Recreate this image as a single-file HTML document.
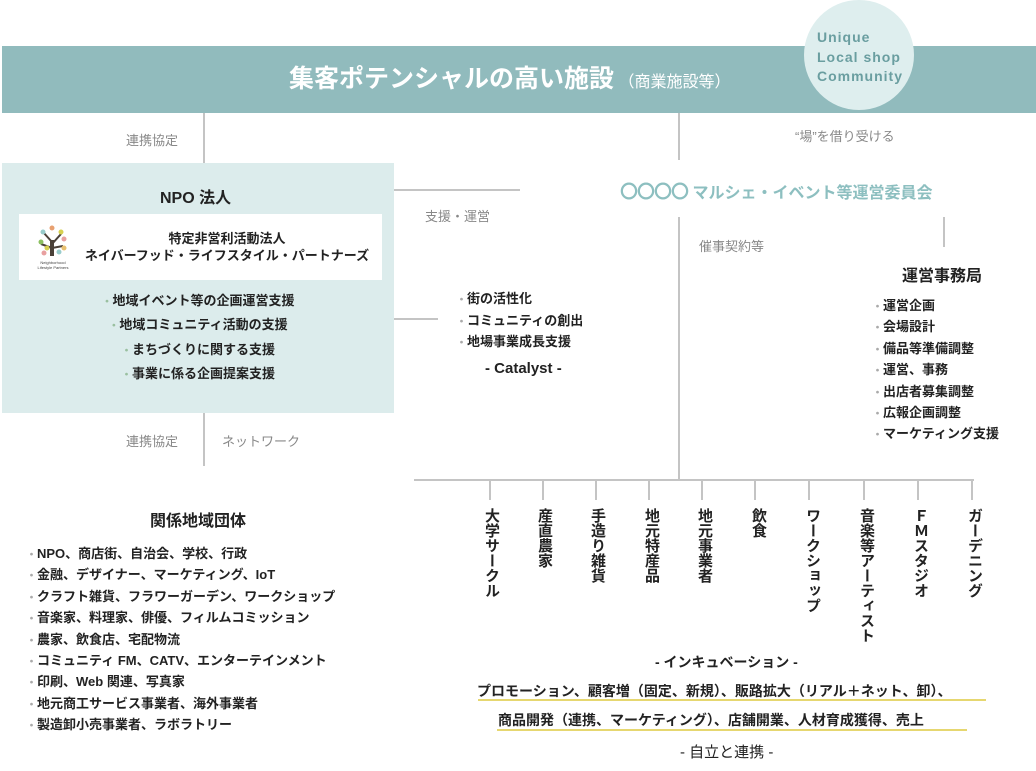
<!DOCTYPE html>
<html><head><meta charset="utf-8">
<style>
*{margin:0;padding:0;box-sizing:border-box}
body{width:1036px;height:771px;background:#fff;position:relative;overflow:hidden;font-family:"Liberation Sans","Noto Sans CJK JP",sans-serif;color:#222}
.a{position:absolute;white-space:nowrap}
.ln{position:absolute;background:#c4c4c4}
.g{color:#888;font-size:13px}
.v{position:absolute;top:508px;writing-mode:vertical-rl;font-size:15px;font-weight:bold;color:#222;line-height:18px;width:18px;transform:translateX(-9px);letter-spacing:0px}
.dot:before{content:"・";color:#9ac0a0;font-size:11px;line-height:1}
.dg:before{content:"・";color:#aaa;font-size:11px;line-height:1}
.h24 div{height:24.3px;line-height:24.3px}
.h21 div{height:21.5px;line-height:21.5px}
.h214 div{height:21.4px;line-height:21.4px}
</style></head><body>
<div class="a" style="left:2px;top:46px;width:1034px;height:67px;background:#91bbbd"></div>
<div class="a" style="left:289px;top:59px;font-size:25px;font-weight:bold;color:#fff">集客ポテンシャルの高い施設<span style="font-size:16px;font-weight:normal"> （商業施設等）</span></div>
<div class="a" style="left:804px;top:0px;width:110px;height:110px;border-radius:50%;background:#deeeee"></div>
<div class="a" style="left:817px;top:28px;font-size:14px;font-weight:bold;color:#6a9ea0;line-height:19.5px;letter-spacing:1px">Unique<br>Local shop<br>Community</div>

<div class="ln" style="left:203px;top:113px;width:2px;height:50px"></div>
<div class="a g" style="left:126px;top:130px">連携協定</div>
<div class="ln" style="left:678px;top:113px;width:2px;height:47px"></div>
<div class="a g" style="left:795px;top:126px">“場”を借り受ける</div>

<div class="a" style="left:2px;top:163px;width:392px;height:250px;background:#dcecec"></div>
<div class="a" style="left:160px;top:184px;font-size:16px;font-weight:bold">NPO 法人</div>
<div class="a" style="left:19px;top:214px;width:363px;height:66px;background:#fff"></div>
<svg class="a" style="left:33px;top:222px" width="40" height="50">
<rect x="17" y="18" width="4" height="16" fill="#4a4038"/>
<path d="M19 20 L10 10 M19 22 L28 12 M19 26 L8 22 M19 26 L30 24" stroke="#4a4038" stroke-width="2"/>
<circle cx="10" cy="10" r="2.5" fill="#9cc"/><circle cx="19" cy="6" r="2.5" fill="#e8a070"/><circle cx="28" cy="10" r="2.5" fill="#d6d050"/><circle cx="8" cy="20" r="2.5" fill="#8bc060"/><circle cx="31" cy="17" r="2.5" fill="#e8a0a0"/><circle cx="14" cy="26" r="2.5" fill="#d6d050"/><circle cx="31" cy="26" r="2.5" fill="#e8c070"/><circle cx="11" cy="31" r="2.5" fill="#e8a0a0"/><circle cx="26" cy="30" r="2.5" fill="#9cc"/>
<text x="20" y="42" font-size="4" text-anchor="middle" fill="#444">Neighborhood</text><text x="20" y="47" font-size="4" text-anchor="middle" fill="#444">Lifestyle Partners</text>
</svg>
<div class="a" style="left:82px;top:230px;width:290px;text-align:center;font-size:13px;line-height:17px;font-weight:bold">特定非営利活動法人<br>ネイバーフッド・ライフスタイル・パートナーズ</div>
<div class="a h24" style="left:2px;top:289px;width:392px;text-align:center;font-size:13px;font-weight:bold">
<div class="dot">地域イベント等の企画運営支援</div>
<div class="dot">地域コミュニティ活動の支援</div>
<div class="dot">まちづくりに関する支援</div>
<div class="dot">事業に係る企画提案支援</div></div>

<div class="ln" style="left:394px;top:189px;width:126px;height:2px"></div>
<div class="a g" style="left:425px;top:206px">支援・運営</div>
<div class="ln" style="left:394px;top:318px;width:44px;height:2px"></div>
<div class="a h21" style="left:456px;top:288px;font-size:13px;font-weight:bold">
<div class="dg">街の活性化</div><div class="dg">コミュニティの創出</div><div class="dg">地場事業成長支援</div></div>
<div class="a" style="left:485px;top:360px;font-size:15px;font-weight:bold">- Catalyst -</div>

<div class="a" style="left:620px;top:178px;font-size:16px;font-weight:bold;color:#8dbfc0"><span style="font-size:18px;letter-spacing:-1px">〇〇〇〇</span> マルシェ・イベント等運営委員会</div>
<div class="ln" style="left:678px;top:217px;width:2px;height:263px"></div>
<div class="a g" style="left:699px;top:236px">催事契約等</div>
<div class="ln" style="left:943px;top:217px;width:2px;height:30px"></div>
<div class="a" style="left:902px;top:262px;font-size:16px;font-weight:bold">運営事務局</div>
<div class="a h214" style="left:872px;top:295px;font-size:13px;font-weight:bold">
<div class="dg">運営企画</div><div class="dg">会場設計</div><div class="dg">備品等準備調整</div><div class="dg">運営、事務</div><div class="dg">出店者募集調整</div><div class="dg">広報企画調整</div><div class="dg">マーケティング支援</div></div>

<div class="ln" style="left:203px;top:413px;width:2px;height:53px"></div>
<div class="a g" style="left:126px;top:431px">連携協定</div>
<div class="a g" style="left:222px;top:431px">ネットワーク</div>

<div class="a" style="left:150px;top:507px;font-size:16px;font-weight:bold">関係地域団体</div>
<div class="a h214" style="left:26px;top:543px;font-size:13px;font-weight:bold">
<div class="dg">NPO、商店街、自治会、学校、行政</div>
<div class="dg">金融、デザイナー、マーケティング、IoT</div>
<div class="dg">クラフト雑貨、フラワーガーデン、ワークショップ</div>
<div class="dg">音楽家、料理家、俳優、フィルムコミッション</div>
<div class="dg">農家、飲食店、宅配物流</div>
<div class="dg">コミュニティ FM、CATV、エンターテインメント</div>
<div class="dg">印刷、Web 関連、写真家</div>
<div class="dg">地元商工サービス事業者、海外事業者</div>
<div class="dg">製造卸小売事業者、ラボラトリー</div></div>

<div class="ln" style="left:414px;top:479px;width:560px;height:2px"></div>
<div class="ln" style="left:489px;top:480px;width:2px;height:20px"></div>
<div class="ln" style="left:542px;top:480px;width:2px;height:20px"></div>
<div class="ln" style="left:595px;top:480px;width:2px;height:20px"></div>
<div class="ln" style="left:648px;top:480px;width:2px;height:20px"></div>
<div class="ln" style="left:701px;top:480px;width:2px;height:20px"></div>
<div class="ln" style="left:754px;top:480px;width:2px;height:20px"></div>
<div class="ln" style="left:808px;top:480px;width:2px;height:20px"></div>
<div class="ln" style="left:863px;top:480px;width:2px;height:20px"></div>
<div class="ln" style="left:917px;top:480px;width:2px;height:20px"></div>
<div class="ln" style="left:971px;top:480px;width:2px;height:20px"></div>
<div class="v" style="left:491px">大学サークル</div>
<div class="v" style="left:544px">産直農家</div>
<div class="v" style="left:597px">手造り雑貨</div>
<div class="v" style="left:651px">地元特産品</div>
<div class="v" style="left:704px">地元事業者</div>
<div class="v" style="left:758px">飲食</div>
<div class="v" style="left:812px">ワークショップ</div>
<div class="v" style="left:866px">音楽等アーティスト</div>
<div class="v" style="left:920px">ＦＭスタジオ</div>
<div class="v" style="left:974px">ガーデニング</div>

<div class="a" style="left:655px;top:652px;font-size:14px;font-weight:bold">- インキュベーション -</div>
<div class="a" style="left:477px;top:681px;font-size:14px;font-weight:bold">プロモーション、顧客増（固定、新規）、販路拡大（リアル＋ネット、卸）、</div>
<div class="a" style="left:478px;top:699px;width:508px;height:2px;background:#e6d770"></div>
<div class="a" style="left:498px;top:710px;font-size:14px;font-weight:bold">商品開発（連携、マーケティング）、店舗開業、人材育成獲得、売上</div>
<div class="a" style="left:497px;top:729px;width:470px;height:2px;background:#e6d770"></div>
<div class="a" style="left:680px;top:741px;font-size:15px">- 自立と連携 -</div>
</body></html>
